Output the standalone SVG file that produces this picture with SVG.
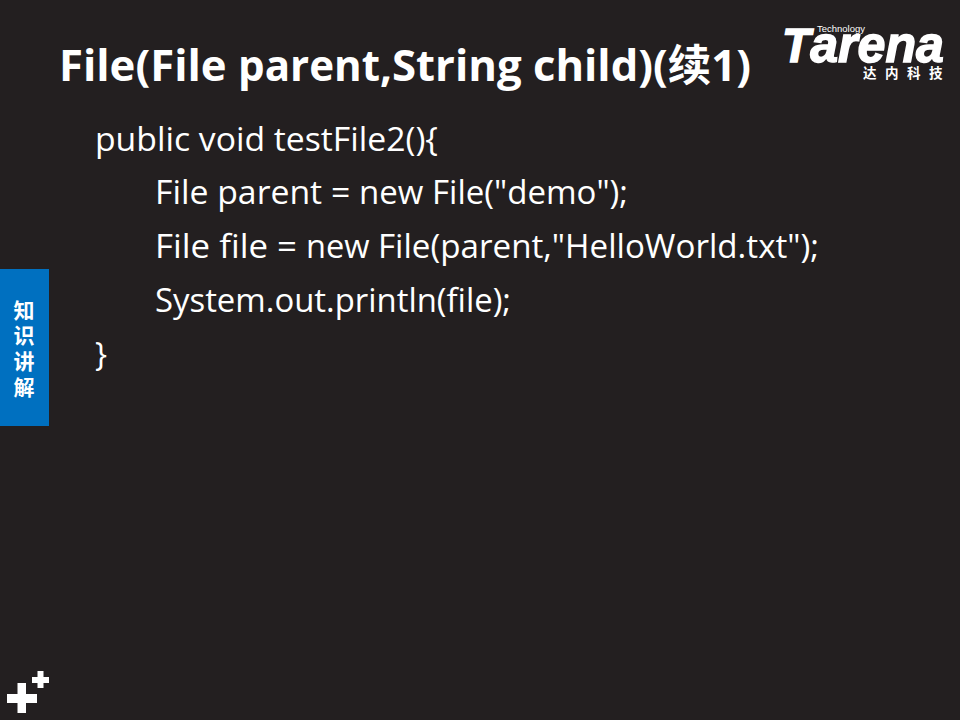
<svg xmlns="http://www.w3.org/2000/svg" width="960" height="720" viewBox="0 0 960 720">
<style>
text{fill:#fff;font-family:"Open Sans","Noto Sans CJK SC",sans-serif}
.t{font-size:43px;font-weight:700}
.b{font-size:32px}
.cjk{font-family:"Noto Sans CJK SC",sans-serif;font-weight:700}
.side{font-size:21px;text-anchor:middle}
.logo{font-family:"Liberation Sans",sans-serif}
</style>
<rect id="background" width="960" height="720" fill="#231f20"/>
<g id="title"><text class="t" y="81" xml:space="preserve"><tspan x="59" textLength="179" lengthAdjust="spacingAndGlyphs">File(File </tspan><tspan x="238" textLength="154" lengthAdjust="spacingAndGlyphs">parent,</tspan><tspan x="392" textLength="141" lengthAdjust="spacingAndGlyphs">String </tspan><tspan x="533" textLength="218" lengthAdjust="spacingAndGlyphs">child)(续1)</tspan></text></g>
<g id="code">
<text class="b" x="95" y="151" textLength="343" lengthAdjust="spacingAndGlyphs">public void testFile2(){</text>
<text class="b" y="204" xml:space="preserve"><tspan x="155" textLength="204" lengthAdjust="spacingAndGlyphs">File parent = </tspan><tspan x="359" textLength="73" lengthAdjust="spacingAndGlyphs">new </tspan><tspan x="432" textLength="196" lengthAdjust="spacingAndGlyphs">File("demo");</tspan></text>
<text class="b" y="258" xml:space="preserve"><tspan x="155" textLength="151" lengthAdjust="spacingAndGlyphs">File file = </tspan><tspan x="306" textLength="72" lengthAdjust="spacingAndGlyphs">new </tspan><tspan x="378" textLength="441" lengthAdjust="spacingAndGlyphs">File(parent,"HelloWorld.txt");</tspan></text>
<text class="b" x="155" y="312" textLength="356" lengthAdjust="spacingAndGlyphs">System.out.println(file);</text>
<text class="b" x="95" y="366">}</text>
</g>
<g id="side-tab">
<rect x="0" y="269" width="49" height="157" fill="#0070c0"/>
<text class="cjk side" x="24" y="317.500">知</text>
<text class="cjk side" x="24" y="343">识</text>
<text class="cjk side" x="24" y="369">讲</text>
<text class="cjk side" x="24" y="395">解</text>
</g>
<g id="logo">
<text class="logo" x="782" y="62" font-weight="700" font-style="italic" stroke="#fff" stroke-width="1.500" textLength="162" lengthAdjust="spacingAndGlyphs"><tspan font-size="48">T</tspan><tspan font-size="52">arena</tspan></text>
<text class="logo" x="817" y="32" font-size="8.500" textLength="48" lengthAdjust="spacingAndGlyphs">Technology</text>
<text class="cjk" x="863" y="78" font-size="13.500" letter-spacing="8.500">达内科技</text>
</g>
<g id="plus-mark" fill="#fff">
<path d="M7 694H17.500V683H26V694H37V703H26V713H17.500V703H7Z"/>
<path d="M32 677H37.500V671H43.500V677H49V683H43.500V688H37.500V683H32Z"/>
</g>
</svg>
